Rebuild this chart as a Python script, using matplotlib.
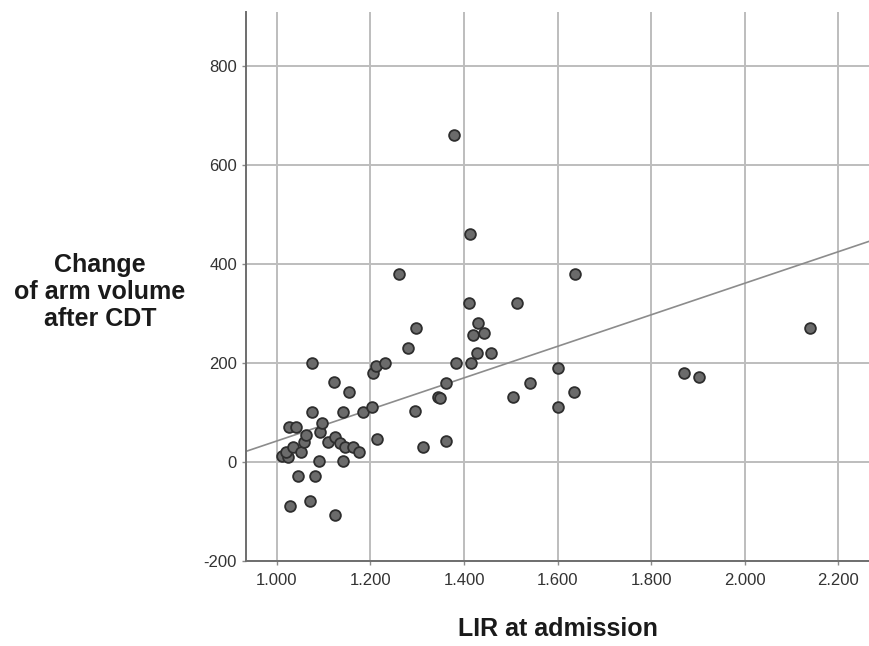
import matplotlib
matplotlib.use("Agg")
import matplotlib.pyplot as plt
import numpy as np

plt.rcParams["font.family"] = ["Liberation Sans", "DejaVu Sans"]
plt.rcParams["axes.unicode_minus"] = False

# LIR at admission vs. change of arm volume after CDT
lir = [1.010, 1.024, 1.019, 1.026, 1.041, 1.035, 1.051, 1.058, 1.063, 1.074,
       1.076, 1.092, 1.096, 1.090, 1.046, 1.081, 1.029, 1.070, 1.124, 1.110,
       1.124, 1.135, 1.145, 1.162, 1.176, 1.141, 1.141, 1.185, 1.203, 1.123,
       1.155, 1.205, 1.212, 1.231, 1.213, 1.260, 1.281, 1.297, 1.295, 1.313,
       1.344, 1.349, 1.361, 1.361, 1.379, 1.383, 1.413, 1.411, 1.414, 1.419,
       1.429, 1.442, 1.427, 1.458, 1.514, 1.505, 1.541, 1.600, 1.600, 1.635,
       1.637, 1.871, 1.903, 2.139]
vol_change = [12, 10, 21, 71, 71, 31, 21, 41, 55, 100,
              200, 61, 79, 2, -28, -28, -89, -79, -108, 41,
              51, 38, 31, 31, 21, 2, 100, 100, 112, 161,
              141, 180, 193, 200, 46, 380, 230, 270, 102, 31,
              131, 129, 160, 42, 660, 200, 460, 321, 200, 256,
              281, 260, 221, 221, 321, 131, 160, 190, 111, 141,
              380, 180, 171, 270]

# fit line as drawn in the figure
fit_intercept = -276.0
fit_slope = 318.5

x_ticks = [1.0, 1.2, 1.4, 1.6, 1.8, 2.0, 2.2]
x_ticklabels = ["1.000", "1.200", "1.400", "1.600", "1.800", "2.000", "2.200"]
y_ticks = [-200, 0, 200, 400, 600, 800]
y_label_lines = ["Change", "of arm volume", "after CDT"]

W, H = 870, 646
fig = plt.figure(figsize=(W / 100, H / 100), dpi=100)
ax = fig.add_axes([0.2828, 0.1316, 0.7172, 0.8498])

xlim = (0.934, 2.268)
ylim = (-200, 909)
ax.set_xlim(*xlim)
ax.set_ylim(*ylim)

ax.set_xticks(x_ticks)
ax.set_xticklabels(x_ticklabels)
ax.set_yticks(y_ticks)
ax.grid(True, color="#bdbdbd", linewidth=1.4)
ax.set_axisbelow(True)

for side in ["top", "right"]:
    ax.spines[side].set_visible(False)
for side in ["left", "bottom"]:
    ax.spines[side].set_color("#6e6e6e")
    ax.spines[side].set_linewidth(1.4)

ax.tick_params(axis="both", length=3, width=1, color="#8a8a8a",
               labelsize=12, labelcolor="#333333")
ax.tick_params(axis="x", pad=5.5)
ax.tick_params(axis="y", pad=3.5)

xs = np.array(xlim)
ax.plot(xs, fit_intercept + fit_slope * xs, color="#8c8c8c", linewidth=1.2,
        zorder=2)

ax.scatter(lir, vol_change, s=60, facecolor="#6b6b6b", edgecolor="#2e2e2e",
           linewidth=1.3, zorder=3)

# axis titles (SPSS-style, horizontal y title on the left)
fig.text(558 / W, 1 - 636 / H, "LIR at admission", ha="center",
         va="baseline", fontsize=18, fontweight="bold", color="#1a1a1a")
for i, line in enumerate(y_label_lines):
    fig.text(100 / W, 1 - (272 + 27 * i) / H, line, ha="center",
             va="baseline", fontsize=18, fontweight="bold", color="#1a1a1a")

fig.savefig("out.png", dpi=100)
